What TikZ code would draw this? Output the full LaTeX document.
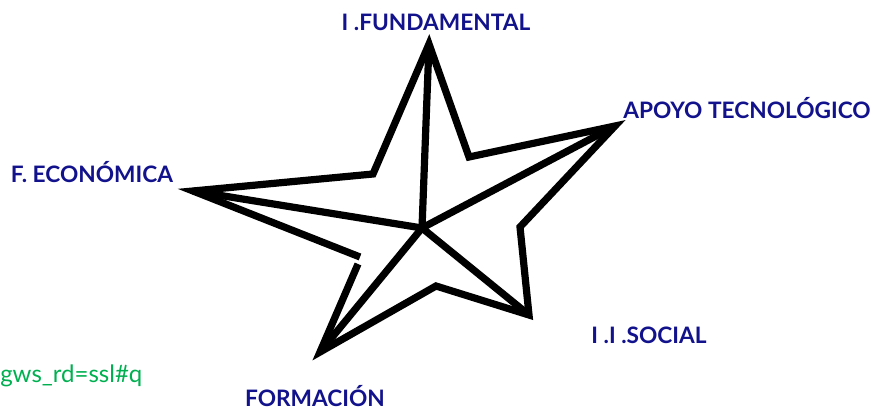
\documentclass[tikz,border=0pt]{standalone}
\usepackage{fontspec}
\setmainfont{Lato}
\definecolor{lblue}{RGB}{18,18,140}
\definecolor{lgreen}{RGB}{0,176,80}
\tikzset{
  lbl/.style={font=\fontsize{17pt}{19pt}\selectfont\bfseries, text=lblue, inner sep=0pt, anchor=base},
  starline/.style={line width=5.4pt, line join=miter, line cap=butt, black},
}
\begin{document}
\begin{tikzpicture}[x=0.75pt,y=-0.75pt]
\useasboundingbox (0,0) rectangle (873,409);
% outer points
\coordinate (T) at (429,44);
\coordinate (R) at (615,126);
\coordinate (BR) at (529,315);
\coordinate (BL) at (320,352);
\coordinate (L) at (193,191);
% inner points
\coordinate (i1) at (373,174);
\coordinate (i2) at (469,157);
\coordinate (i3) at (520,227);
\coordinate (i4) at (436,286);
\coordinate (g1) at (360,257);
\coordinate (g2) at (358,264);
\coordinate (C) at (422,228);
% outline
\draw[starline] (g1) -- (L) -- (i1) -- (T) -- (i2) -- (R) -- (i3) -- (BR) -- (i4) -- (BL) -- (g2);
% spokes
\draw[starline] (C) -- (T);
\draw[starline] (C) -- (R);
\draw[starline] (C) -- (BR);
\draw[starline] (C) -- (BL);
\draw[starline] (C) -- (L);
% labels
\node[lbl] (fund) at (436,31) {I .FUNDAMENTAL};
\node[lbl] (apoyo) at (747,119) {APOYO TECNOLÓGICO};
\node[lbl] (econ) at (92,183) {F. ECONÓMICA};
\node[lbl] (social) at (649,343) {I .I .SOCIAL};
\node[lbl] (form) at (315,406) {FORMACIÓN};
\node[font=\fontsize{18pt}{20pt}\selectfont, text=lgreen, inner sep=0pt, anchor=base west] (gws) at (0,382) {gws\_rd=ssl\#q};
\end{tikzpicture}
\end{document}
